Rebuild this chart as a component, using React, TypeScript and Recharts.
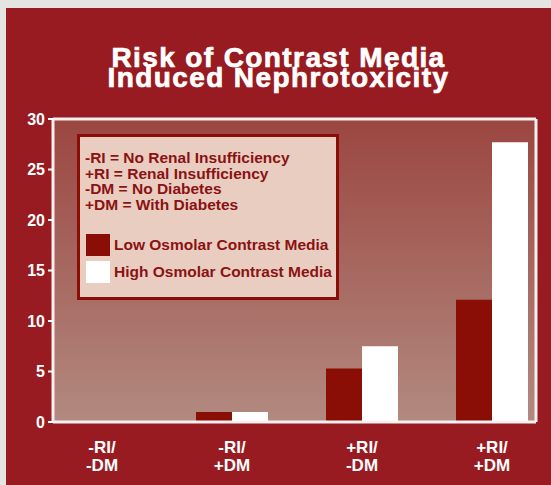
import { Bar, BarChart, CartesianGrid, Legend, XAxis, YAxis } from "recharts"

const categories = ["-RI/-DM", "-RI/+DM", "+RI/-DM", "+RI/+DM"]
const seriesNames = ["Low Osmolar Contrast Media", "High Osmolar Contrast Media"]
const lowOsmolar = [0, 1, 5.3, 12.1]
const highOsmolar = [0, 1, 7.5, 27.7]
const yTicks = [0, 5, 10, 15, 20, 25, 30]
const keyLines = [
  "-RI = No Renal Insufficiency",
  "+RI = Renal Insufficiency",
  "-DM = No Diabetes",
  "+DM = With Diabetes",
]

const FONT = '"Liberation Sans", Arial, Helvetica, sans-serif'
const PANEL = "#971b21"
const DARK = "#8a0e06"
const INK = "#8b1212"
const FRAME = "#f6f0f0"

const data = categories.map((cat, i) => ({
  cat,
  low: lowOsmolar[i],
  high: highOsmolar[i],
}))

function CategoryTick({ x, y, payload }: any) {
  const s: string = payload.value
  const cut = s.indexOf("/") + 1
  return (
    <text
      x={x}
      y={y}
      textAnchor="middle"
      fill="#fff"
      fontSize={17}
      fontWeight="bold"
      fontFamily={FONT}
    >
      <tspan x={x} dy={31}>{s.slice(0, cut)}</tspan>
      <tspan x={x} dy={18}>{s.slice(cut)}</tspan>
    </text>
  )
}

function KeyBox({ payload }: any) {
  // keep the series order, the legend sorts by name otherwise
  const items = [...(payload ?? [])].sort(
    (a: any, b: any) => seriesNames.indexOf(a.value) - seriesNames.indexOf(b.value)
  )
  return (
    <div
      style={{
        position: "relative",
        boxSizing: "border-box",
        width: 262,
        height: 166,
        border: `3px solid ${DARK}`,
        background: "#e9cdc1",
        fontFamily: FONT,
        fontWeight: "bold",
        fontSize: 15.5,
        color: INK,
      }}
    >
      <div style={{ position: "absolute", left: 5, top: 12.8, lineHeight: "15.7px", whiteSpace: "nowrap" }}>
        {keyLines.map((l) => (
          <div key={l}>{l}</div>
        ))}
      </div>
      {items.map((p: any, i: number) => (
        <div
          key={p.value}
          style={{ position: "absolute", left: 6, top: 97 + i * 27, height: 22, display: "flex", whiteSpace: "nowrap" }}
        >
          <div style={{ width: 24, height: 22, background: p.color }} />
          <div style={{ marginLeft: 4, lineHeight: "22px" }}>{p.value}</div>
        </div>
      ))}
    </div>
  )
}

export default function App() {
  return (
    <div
      style={{
        position: "fixed",
        left: 0,
        top: 0,
        width: 551,
        height: 485,
        background: "#e4e4e0",
        overflow: "hidden",
      }}
    >
      <div style={{ position: "absolute", left: 6, top: 8, right: 0, bottom: 0, background: PANEL }} />
      <div
        style={{
          position: "absolute",
          left: 6,
          width: 545,
          top: 48,
          textAlign: "center",
          color: "#fff",
          fontFamily: FONT,
          fontWeight: "bold",
          fontSize: 28,
          lineHeight: "20px",
          letterSpacing: 1.4,
          WebkitTextStroke: "0.7px #fff",
        }}
      >
        Risk of Contrast Media
        <br />
        Induced Nephrotoxicity
      </div>
      <div style={{ position: "absolute", left: 0, top: 0 }}>
        <BarChart
          width={551}
          height={485}
          data={data}
          margin={{ top: 118, right: 14, bottom: 0, left: 0 }}
          barSize={36}
          barGap={0}
        >
          <defs>
            <linearGradient id="plotBg" x1="0" y1="0" x2="0" y2="1">
              <stop offset="0%" stopColor="#9b4640" />
              <stop offset="100%" stopColor="#b28a80" />
            </linearGradient>
          </defs>
          <CartesianGrid fill="url(#plotBg)" horizontal={false} vertical={false} />
          <XAxis
            dataKey="cat"
            height={63}
            padding={{ left: -16, right: -21 }}
            tickLine={false}
            tickSize={0}
            tickMargin={0}
            axisLine={{ stroke: FRAME, strokeWidth: 3 }}
            tick={<CategoryTick />}
            interval={0}
          />
          <XAxis
            xAxisId="top"
            dataKey="cat"
            orientation="top"
            height={1}
            tick={false}
            tickLine={false}
            axisLine={{ stroke: FRAME, strokeWidth: 3 }}
          />
          <YAxis
            width={53}
            domain={[0, 30]}
            ticks={yTicks}
            tickSize={5}
            tickMargin={3}
            tickLine={{ stroke: "#fff", strokeWidth: 2 }}
            axisLine={{ stroke: FRAME, strokeWidth: 3 }}
            tick={{ fill: "#fff", fontSize: 16, fontWeight: "bold", fontFamily: FONT }}
          />
          <YAxis
            yAxisId="right"
            orientation="right"
            width={1}
            domain={[0, 30]}
            tick={false}
            tickLine={false}
            axisLine={{ stroke: FRAME, strokeWidth: 3 }}
          />
          <Legend
            layout="vertical"
            align="center"
            verticalAlign="middle"
            wrapperStyle={{ left: 77, top: 134, width: 262, height: 166 }}
            content={<KeyBox />}
          />
          <Bar dataKey="low" name={seriesNames[0]} fill={DARK} isAnimationActive={false} />
          <Bar dataKey="high" name={seriesNames[1]} fill="#ffffff" isAnimationActive={false} />
        </BarChart>
      </div>
    </div>
  )
}
